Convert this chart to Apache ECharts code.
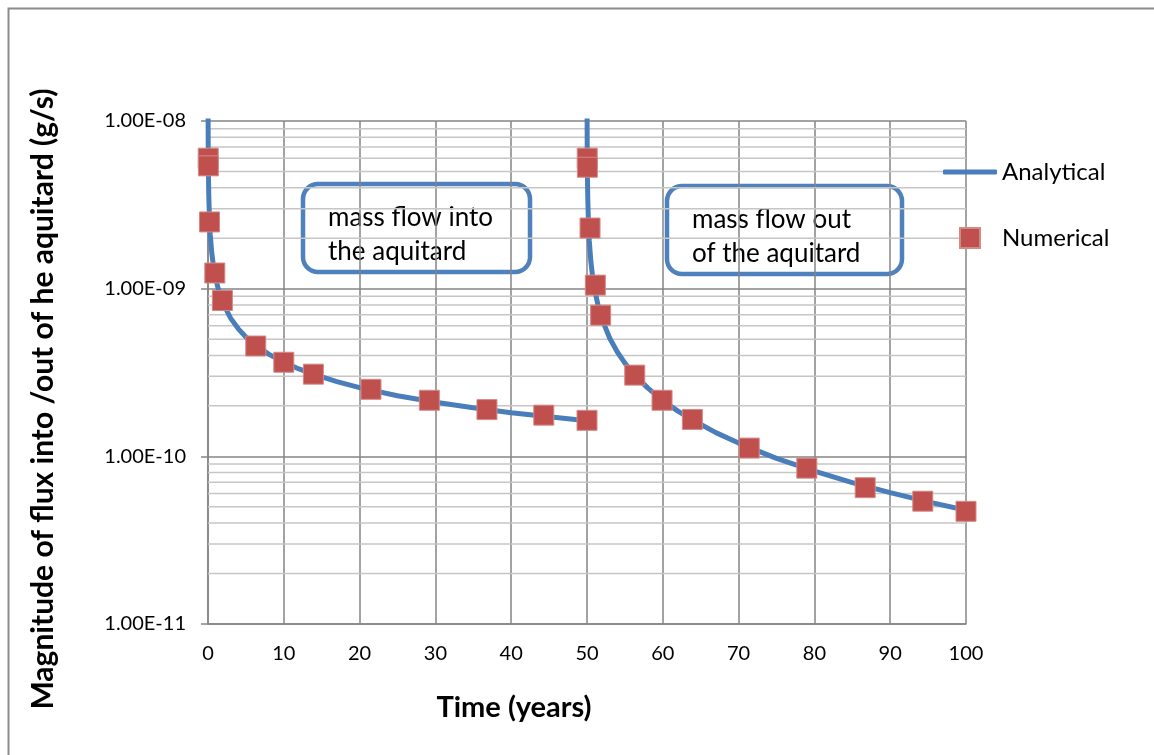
<!DOCTYPE html>
<html>
<head>
<meta charset="utf-8">
<script src="https://cdn.jsdelivr.net/npm/echarts@6/dist/echarts.min.js"></script>
<style>
  html, body { margin: 0; padding: 0; background: #fff; }
  #chart { width: 1154px; height: 755px; }
</style>
</head>
<body>
<div id="chart"></div>
<script>
// Analytical solution: flux into the aquitard while the source is on (0–50 yr)
var analyticalIn = [
  [0.01, 1.15e-8], [0.03, 6.65e-9], [0.05, 5.15e-9], [0.1, 3.64e-9], [0.2, 2.57e-9],
  [0.3, 2.10e-9], [0.5, 1.63e-9], [0.75, 1.33e-9], [1, 1.15e-9], [1.5, 9.4e-10],
  [2, 8.14e-10], [3, 6.65e-10], [4, 5.76e-10], [5, 5.15e-10], [6.3, 4.59e-10],
  [8, 4.07e-10], [10, 3.64e-10], [12, 3.32e-10], [14, 3.08e-10], [17, 2.79e-10],
  [20, 2.57e-10], [25, 2.30e-10], [30, 2.10e-10], [35, 1.95e-10], [40, 1.82e-10],
  [45, 1.72e-10], [50, 1.63e-10]
];
// Analytical solution: flux back out of the aquitard after the source is removed (50–100 yr)
var analyticalOut = [
  [50.01, 1.135e-8], [50.03, 6.48e-9], [50.05, 4.98e-9], [50.1, 3.48e-9], [50.2, 2.41e-9],
  [50.3, 1.94e-9], [50.5, 1.465e-9], [50.75, 1.167e-9], [51, 9.9e-10], [51.5, 7.79e-10],
  [52, 6.54e-10], [53, 5.06e-10], [54, 4.19e-10], [55, 3.60e-10], [56.3, 3.05e-10],
  [58, 2.56e-10], [60, 2.15e-10], [62, 1.86e-10], [64, 1.64e-10], [67, 1.385e-10],
  [70, 1.20e-10], [75, 9.73e-11], [80, 8.15e-11], [85, 6.97e-11], [90, 6.07e-11],
  [95, 5.35e-11], [100, 4.77e-11]
];
// Numerical model results
var numerical = [
  [0.03, 6.0e-9], [0.05, 5.4e-9], [0.2, 2.5e-9], [0.9, 1.24e-9], [1.9, 8.5e-10],
  [6.3, 4.55e-10], [10, 3.64e-10], [13.9, 3.09e-10], [21.5, 2.51e-10], [29.2, 2.16e-10],
  [36.8, 1.90e-10], [44.3, 1.76e-10], [50, 1.64e-10],
  [50.03, 6.0e-9], [50.05, 5.3e-9], [50.4, 2.3e-9], [51.1, 1.05e-9], [51.8, 6.95e-10],
  [56.3, 3.05e-10], [59.9, 2.16e-10], [63.9, 1.66e-10], [71.4, 1.12e-10], [79, 8.5e-11],
  [86.7, 6.5e-11], [94.3, 5.4e-11], [100, 4.7e-11]
];
// Y tick labels by decade exponent
var yTickLabels = { '-8': '1.00E-08', '-9': '1.00E-09', '-10': '1.00E-10', '-11': '1.00E-11' };
var decades = [1e-11, 1e-10, 1e-9];
var mantissas = [2, 3, 4, 5, 6, 7, 8, 9];

// minor gridline levels (2..9 within each decade)
var minorLevels = [];
decades.forEach(function (d) {
  mantissas.forEach(function (m) { minorLevels.push([0, m * d]); });
});

var FONT = 'Lato, "Open Sans", sans-serif';
var BLUE = '#4a7ebb';
var RED = '#c0504d';
var GRID = '#858585';

var chart = echarts.init(document.getElementById('chart'));
chart.setOption({
  backgroundColor: '#fff',
  animation: false,
  textStyle: { fontFamily: FONT },
  grid: { left: 208, right: 188, top: 121, bottom: 131, containLabel: false },
  xAxis: {
    type: 'value', min: 0, max: 100, interval: 10,
    axisLine: { show: true, lineStyle: { color: GRID, width: 1.5 } },
    axisTick: { show: false },
    axisLabel: { color: '#000', fontSize: 20, fontFamily: FONT, margin: 20 },
    splitLine: { show: true, lineStyle: { color: GRID, width: 1.5 } }
  },
  yAxis: {
    type: 'log', logBase: 10, min: 1e-11, max: 1e-8,
    axisLine: { show: true, lineStyle: { color: GRID, width: 1.5 } },
    axisTick: { show: true, length: 7, lineStyle: { color: GRID, width: 1.5 } },
    axisLabel: {
      color: '#000', fontSize: 20, fontFamily: FONT, margin: 22,
      formatter: function (v) {
        var e = Math.round(Math.log10(v));
        return yTickLabels[String(e)] || '';
      }
    },
    splitLine: { show: true, lineStyle: { color: GRID, width: 1.5 } }
  },
  legend: [
    {
      data: [{ name: 'Analytical', icon: 'roundRect' }], left: 938, top: 155, orient: 'vertical',
      itemWidth: 54, itemHeight: 5,
      textStyle: { fontSize: 24, color: '#000', fontFamily: FONT }
    },
    {
      data: [{ name: 'Numerical', icon: 'rect' }], left: 954, top: 221, orient: 'vertical',
      itemWidth: 20, itemHeight: 20,
      textStyle: { fontSize: 24, color: '#000', fontFamily: FONT, padding: [0, 0, 0, 17] }
    }
  ],
  series: [
    {
      // minor horizontal gridlines, positioned through the log axis
      name: 'minor', type: 'custom', data: minorLevels, z: 1, silent: true,
      clip: false,
      renderItem: function (params, api) {
        var v = api.value(1);
        var p1 = api.coord([0, v]);
        var p2 = api.coord([100, v]);
        return {
          type: 'line',
          shape: { x1: p1[0], y1: p1[1], x2: p2[0], y2: p2[1] },
          style: { stroke: '#c6c6c6', lineWidth: 1.5 }
        };
      }
    },
    {
      name: 'Analytical', type: 'line', data: analyticalIn, symbol: 'none', z: 3,
      lineStyle: { color: BLUE, width: 5, cap: 'round' }, itemStyle: { color: BLUE }
    },
    {
      name: 'Analytical', type: 'line', data: analyticalOut, symbol: 'none', z: 3,
      lineStyle: { color: BLUE, width: 5, cap: 'round' }, itemStyle: { color: BLUE }
    },
    {
      name: 'Numerical', type: 'scatter', data: numerical, symbol: 'rect', symbolSize: 20, z: 4,
      itemStyle: { color: RED, borderColor: '#d38a87', borderWidth: 1, opacity: 1 }
    }
  ],
  graphic: [
    {
      type: 'rect', left: 6, top: 6, silent: true, z: -1,
      shape: { width: 1200, height: 800 },
      style: { fill: 'none', stroke: '#8c8c8c', lineWidth: 2 }
    },
    {
      type: 'text', silent: true,
      x: 43, y: 399, rotation: Math.PI / 2,
      style: {
        text: 'Magnitude of flux into /out of he aquitard (g/s)',
        font: 'bold 30px ' + FONT, fill: '#000', align: 'center', verticalAlign: 'middle'
      }
    },
    {
      type: 'text', silent: true, x: 514, y: 708,
      style: {
        text: 'Time (years)', font: 'bold 29px ' + FONT, fill: '#000',
        align: 'center', verticalAlign: 'middle'
      }
    },
    {
      type: 'group', x: 303, y: 184, z: 10,
      children: [
        { type: 'rect', shape: { width: 227, height: 88, r: 15 },
          style: { fill: '#fff', stroke: '#4f81bd', lineWidth: 4.5 } },
        { type: 'text', x: 25, y: 17,
          style: { text: 'mass flow into\nthe aquitard', font: '26px ' + FONT, fill: '#000', lineHeight: 34 } }
      ]
    },
    {
      type: 'group', x: 667, y: 186, z: 10,
      children: [
        { type: 'rect', shape: { width: 235, height: 88, r: 15 },
          style: { fill: '#fff', stroke: '#4f81bd', lineWidth: 4.5 } },
        { type: 'text', x: 25, y: 17,
          style: { text: 'mass flow out\nof the aquitard', font: '26px ' + FONT, fill: '#000', lineHeight: 34 } }
      ]
    }
  ]
});
</script>
</body>
</html>
